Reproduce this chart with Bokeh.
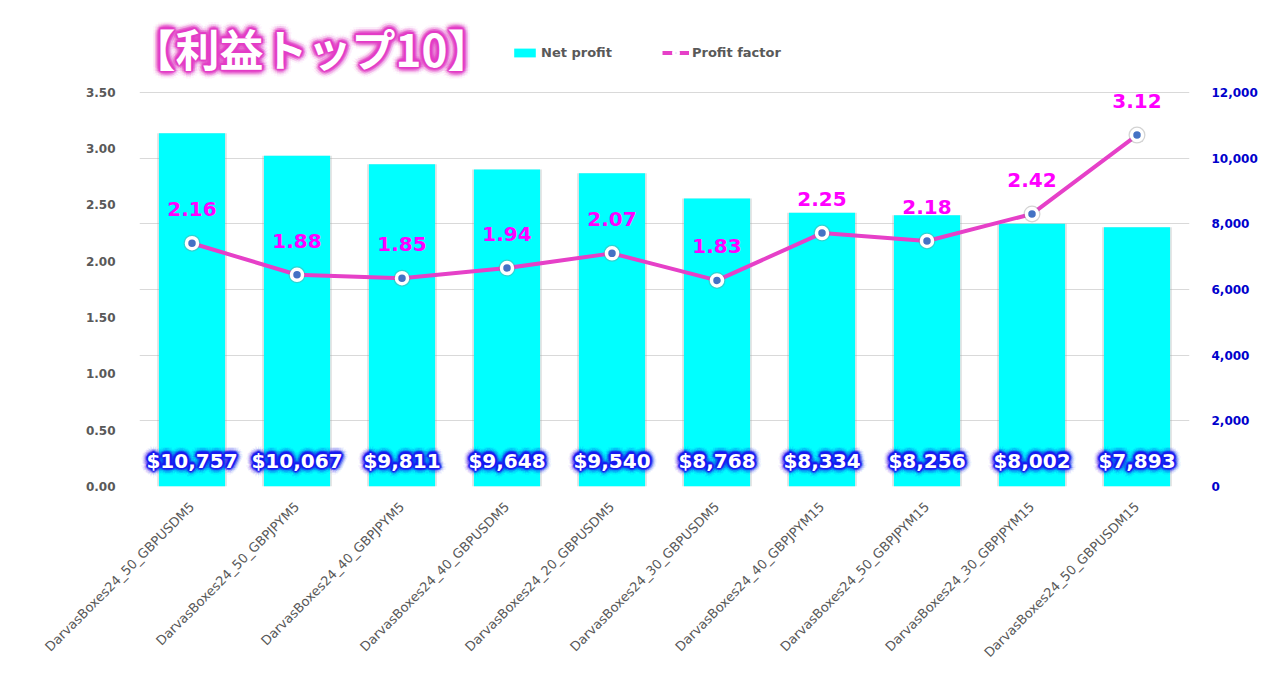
import math
from bokeh.plotting import figure
from bokeh.models import (ColumnDataSource, FactorRange, Range1d, LinearAxis, FixedTicker,
                          NumeralTickFormatter, Grid, Legend, LegendItem, Label)
from bokeh.core.properties import value
from bokeh.embed import file_html
from bokeh.resources import INLINE

# ---------------- data ----------------
categories = [
    "DarvasBoxes24_50_GBPUSDM5",
    "DarvasBoxes24_50_GBPJPYM5",
    "DarvasBoxes24_40_GBPJPYM5",
    "DarvasBoxes24_40_GBPUSDM5",
    "DarvasBoxes24_20_GBPUSDM5",
    "DarvasBoxes24_30_GBPUSDM5",
    "DarvasBoxes24_40_GBPJPYM15",
    "DarvasBoxes24_50_GBPJPYM15",
    "DarvasBoxes24_30_GBPJPYM15",
    "DarvasBoxes24_50_GBPUSDM15",
]
net_profit = [10757, 10067, 9811, 9648, 9540, 8768, 8334, 8256, 8002, 7893]
profit_factor = [2.16, 1.88, 1.85, 1.94, 2.07, 1.83, 2.25, 2.18, 2.42, 3.12]
pf_ticks = [0.0, 0.5, 1.0, 1.5, 2.0, 2.5, 3.0, 3.5]
np_ticks = [0, 2000, 4000, 6000, 8000, 10000, 12000]
title_text = "【利益トップ10】"
legend_labels = ["Net profit", "Profit factor"]

np_labels = ["${:,}".format(v) for v in net_profit]
pf_labels = ["{:.2f}".format(v) for v in profit_factor]

src = ColumnDataSource(dict(cat=categories, np=net_profit, pf=profit_factor,
                            npl=np_labels, pfl=pf_labels))

FONT = value("DejaVu Sans")

# The frame reaches nearly to the top of the canvas so that the title and the
# legend can live inside it; the visible axes stop at 3.50 / 12,000.
TOP_PX, BOTTOM_PX = 8, 487        # frame top / bottom on the canvas
AXIS_TOP_PX = 92                  # where 3.50 / 12,000 sit
stretch = (BOTTOM_PX - TOP_PX) / (BOTTOM_PX - AXIS_TOP_PX)

p = figure(x_range=FactorRange(*categories),
           y_range=Range1d(0, pf_ticks[-1] * stretch),
           width=1263, height=668, output_backend="svg", toolbar_location=None,
           min_border_left=139, min_border_right=74, min_border_top=TOP_PX,
           min_border_bottom=668 - BOTTOM_PX,
           background_fill_color="white", border_fill_color="white", outline_line_color=None)
p.extra_y_ranges = {"np": Range1d(0, np_ticks[-1] * stretch)}

# axes
p.xaxis.major_label_orientation = math.pi / 4
p.xaxis.major_label_text_font = "DejaVu Sans"
p.xaxis.major_label_text_font_size = "13px"
p.xaxis.major_label_text_color = "#595959"
p.xaxis.major_label_standoff = 12
p.xaxis.axis_line_color = None
p.xaxis.major_tick_line_color = None
p.xaxis.minor_tick_line_color = None

p.yaxis.ticker = FixedTicker(ticks=pf_ticks)
p.yaxis.formatter = NumeralTickFormatter(format="0.00")
p.yaxis.major_label_text_font = "DejaVu Sans"
p.yaxis.major_label_text_font_style = "bold"
p.yaxis.major_label_text_font_size = "12px"
p.yaxis.major_label_text_color = "#595959"
p.yaxis.major_label_standoff = 18
p.yaxis.axis_line_color = None
p.yaxis.major_tick_line_color = None
p.yaxis.minor_tick_line_color = None

right = LinearAxis(y_range_name="np", ticker=FixedTicker(ticks=np_ticks),
                   formatter=NumeralTickFormatter(format="0,0"))
right.major_label_text_font = "DejaVu Sans"
right.major_label_text_font_style = "bold"
right.major_label_text_font_size = "12px"
right.major_label_text_color = "#0000CC"
right.major_label_standoff = 16
right.axis_line_color = None
right.major_tick_line_color = None
right.minor_tick_line_color = None
p.add_layout(right, "right")

p.xgrid.visible = False
p.ygrid.visible = False
grid = Grid(dimension=1, ticker=FixedTicker(ticks=np_ticks), y_range_name="np",
            grid_line_color="#D9D9D9", grid_line_width=1)
p.add_layout(grid)

# bars with soft shadow
p.vbar(x="cat", top="np", width=0.665, y_range_name="np", source=src,
       fill_color="#A6A6A6", fill_alpha=0.3, line_color=None)
bars = p.vbar(x="cat", top="np", width=0.63, y_range_name="np", source=src,
              fill_color="#00FFFF", line_color=None)


def glow_text(ycol, text_col, yoff, color, rings, size, range_name=None):
    for r, a in rings:
        for k in range(16):
            ang = 2 * math.pi * k / 16
            kw = dict(x="cat", y=ycol, text=text_col, source=src,
                      x_offset=r * math.cos(ang), y_offset=yoff + r * math.sin(ang),
                      text_color=color, text_alpha=a, text_font=FONT,
                      text_font_style="bold", text_font_size=size,
                      text_align="center", text_baseline="middle")
            if range_name:
                kw["y_range_name"] = range_name
            p.text(**kw)


glow_text(0, "npl", -26, "#1818F0",
          [(7, 0.05), (5.5, 0.08), (4, 0.14), (2.5, 0.3), (1.2, 0.5)], "20px", "np")
p.text(x="cat", y=0, text="npl", source=src, y_range_name="np", y_offset=-26,
       text_color="white", text_font=FONT, text_font_style="bold", text_font_size="20px",
       text_align="center", text_baseline="middle")

# profit factor line
line = p.line(x="cat", y="pf", source=src, line_color="#E640C8", line_width=4)
p.scatter(x="cat", y="pf", source=src, size=17, fill_color="#808080", fill_alpha=0.35,
          line_color=None)
scat = p.scatter(x="cat", y="pf", source=src, size=11, fill_color="#4472C4",
                 line_color="white", line_width=3.5)
p.text(x="cat", y="pf", text="pfl", source=src, y_offset=-34,
       text_color="#FF00FF", text_font=FONT, text_font_style="bold", text_font_size="20px",
       text_align="center", text_baseline="middle")

# legend (inside the stretched frame, above the plotted area)
legend = Legend(items=[LegendItem(label=legend_labels[0], renderers=[bars]),
                       LegendItem(label=legend_labels[1], renderers=[line, scat])],
                orientation="horizontal", location=(372, 426),
                label_text_font="DejaVu Sans", label_text_font_style="bold",
                label_text_font_size="13px", label_text_color="#595959",
                glyph_width=27, glyph_height=11, label_standoff=3, label_height=15,
                spacing=50, padding=0, margin=0,
                background_fill_alpha=0, border_line_color=None)
p.add_layout(legend)

# title with glow
TX, TY = -8, BOTTOM_PX - 48
for r, a in [(8, 0.05), (6, 0.1), (4, 0.22), (2, 0.5)]:
    for k in range(16):
        ang = 2 * math.pi * k / 16
        p.add_layout(Label(x=TX, y=TY, x_units="screen", y_units="screen", text=title_text,
                           x_offset=r * math.cos(ang), y_offset=r * math.sin(ang),
                           text_font="Noto Sans CJK JP", text_font_style="bold",
                           text_font_size="44px", text_color="#E33BC6", text_alpha=a,
                           text_baseline="middle", text_align="left"))
p.add_layout(Label(x=TX, y=TY, x_units="screen", y_units="screen", text=title_text,
                   text_font="Noto Sans CJK JP", text_font_style="bold",
                   text_font_size="44px", text_color="white",
                   text_baseline="middle", text_align="left"))

open("out.html", "w").write(file_html(p, INLINE))
